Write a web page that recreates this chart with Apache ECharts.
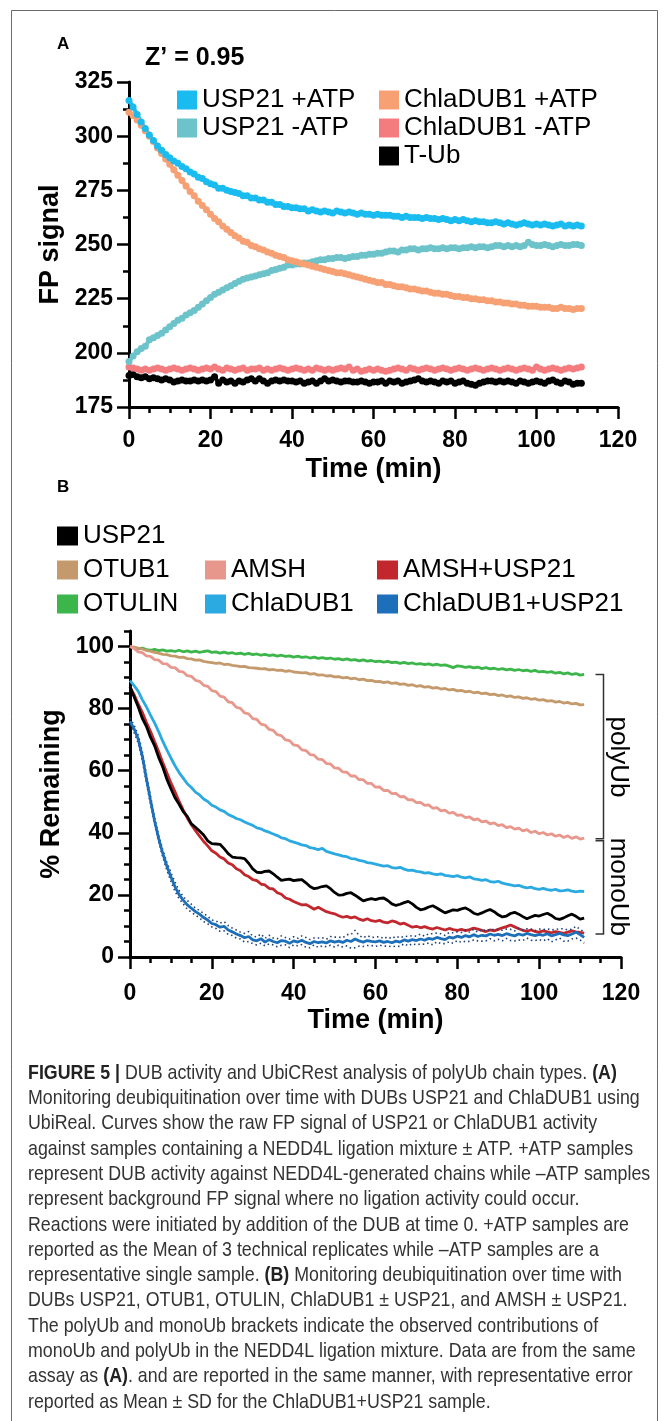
<!DOCTYPE html>
<html><head><meta charset="utf-8">
<script src="https://cdn.jsdelivr.net/npm/echarts@6/dist/echarts.min.js"></script>
<style>html,body{margin:0;padding:0;background:#fff}#c{width:667px;height:1421px}</style>
</head><body><div id="c"></div>
<script>
// ---------- data ----------
const TIME = [0,1,2,3,4,5,6,7,8,9,10,11,12,13,14,15,16,17,18,19,20,21,22,23,24,25,26,27,28,29,30,31,32,33,34,35,36,37,38,39,40,41,42,43,44,45,46,47,48,49,50,51,52,53,54,55,56,57,58,59,60,61,62,63,64,65,66,67,68,69,70,71,72,73,74,75,76,77,78,79,80,81,82,83,84,85,86,87,88,89,90,91,92,93,94,95,96,97,98,99,100,101,102,103,104,105,106,107,108,109,110,111];

const X_TICKS = [0,20,40,60,80,100,120];
const A_Y_TICKS = [175,200,225,250,275,300,325];
const B_Y_TICKS = [0,20,40,60,80,100];

// Panel A: FP signal
const A_USP21_PLUS = [316.5,313.5,310,306.5,303.5,300.5,298,295.5,293.5,291.5,290,
288.5,287.5,286,285,283.5,282.5,281,280.5,279,278,
277.5,276,276,275,274.5,274,273.5,272.5,272.5,271.5,
271.5,270.5,270.5,269.5,269.5,268.5,268.5,267.5,267.5,267,
267,266.5,266.5,265.5,266,265.5,265,265.5,265,264.5,
265.5,265,264.5,265,264.5,264,264.5,264,264,263.5,
264,263.5,263.5,263.5,263,263,262.5,263,262.5,262.5,
262.5,262,262.5,262,262,261.5,262,261.5,261,261.5,
261,261.5,261,260.5,261,260.5,260.5,260,260,260.5,
260,259.5,260,259.5,259,259.5,260,259.5,259,259.5,
259,259.5,259,258.5,259,259.5,258.5,259,258.5,259,258.5];
const A_USP21_MINUS = [196,198.5,200.5,202,203,206,207,208,209,210.5,212,
213.5,215,216,217.5,218.5,219.5,221,222.5,224,225.5,
227,228,229,230,231,232,233,234,234.5,235,
235.5,236,236.5,237,238,238.5,239,239.5,240.5,240.5,
241,241,241.5,241.5,242,242.5,243,243,243.5,243.5,
244,244,243.5,244,244.5,244.5,245,245,245.5,245.5,
246,246,246.5,247,247,246.5,247.5,247.5,248,248,
247.5,248,248,248.5,248,248,248.5,248,248.5,248.5,
248,248.5,248.5,249,248.5,249,249,248.5,249,249.5,
249.5,249,249.5,249,249.5,249,249.5,251,250,249.5,
249.5,250,249.5,249,249.5,250,249.5,249.5,250,250,249.5];
const A_CHLA_PLUS = [311,309.5,307.5,305,302.5,300,297.5,294.5,292,289.5,287,
284.5,282,279.5,277,274.5,272.5,270,268,266,264,
262,260.5,258.5,257,255.5,254,253,251.5,251,249.5,
249,248,247.5,246.5,246,245,244.5,244,243,242.5,
242,241.5,241,240.5,240,239.5,239,238.5,238,237.5,
237,237,236.5,236,235.5,235,234.5,234,233.5,233,
232.5,232.5,231.5,231.5,231,230.5,230.5,230,229.5,229.5,
229,228.5,228.5,228,227.5,227.5,227,227,226.5,226,
226,225.5,225.5,225,225,224.5,224.5,224,224,223.5,
223.5,223,223,222.5,222.5,222,222,221.5,221.5,221.5,
221,221,221,220.5,220.5,221,220.5,220.5,220,220.5,220.5];
const A_CHLA_MINUS = [193.5,193,192.5,192,192.5,192,192.5,193,192.5,192,192.5,
193,192.5,192,192.5,193,192.5,192,192.5,193,192.5,
193.5,192.5,192,193,192.5,192,192.5,193,192,192.5,
192.5,193,192,192.5,192,192.5,193,192.5,192,192.5,
193,192.5,192,192.5,192,193,192.5,192,192.5,192,
192.5,193,192.5,193.5,192,192.5,191.5,192,192.5,192,
192.5,192,191.5,192,192.5,193,192.5,192,193,192.5,
192,192.5,193,192.5,192,192.5,193,192.5,192,192.5,
193,192.5,192,192.5,193,192.5,192,192.5,193,192.5,
192,192.5,193,192.5,192,192.5,193,192.5,192,193.5,
192.5,192,192.5,193,192.5,192,192.5,193,192.5,193,193.5];
const A_TUB = [189.5,190,189,188.5,189,188,188.5,188,187.5,188,187.5,
186.5,187,187.5,187,187,187.5,187,187.5,187,187.5,
189,186,187.5,186.5,187,186,187,186.5,187.5,188,
187,188,187,186,187,187.5,187,187.5,187,187,
186.5,187,186,186.5,187,186,187,188,187,187.5,
187,186.5,187,187,186.5,186.5,187,186.5,186,186.5,
186.5,187,186,187,186.5,187,186,186.5,187,187.5,
188,187,186.5,187,186.5,186,187,186.5,187,186,
186.5,187,186,185.5,185,186,186.5,187,187,186.5,
187,186.5,187,186.5,186,187,186.5,186,186.5,187,
186.5,186,187,187.5,186.5,186,187,186.5,185.5,186,186];

// Panel B: % remaining
const B_USP21 = [87,83.8,80.6,76.9,74.3,70.8,68.1,64.3,61.2,57.3,54.2,
51.3,49.2,46.8,45.3,42.9,41.8,40.6,39.3,37.4,36.5,
36.4,36.3,34.9,33.3,32.2,32.0,31.9,31.7,30.2,28.4,
27.3,27.2,27.6,27.7,26.8,25.7,24.7,24.9,25.1,24.6,
24.8,24.9,23.9,22.7,22.0,22.3,22.7,22.9,22.0,20.8,
19.9,20.0,20.5,20.7,19.9,19.0,18.1,18.5,18.8,18.5,
18.9,19.0,18.2,17.1,16.6,17.0,17.5,17.9,17.1,16.0,
15.2,15.5,16.1,16.5,15.8,15.0,14.2,14.7,15.2,15.0,
15.5,15.8,15.1,14.1,13.7,14.2,14.8,15.3,14.6,13.6,
12.9,13.2,14.0,14.4,13.8,13.0,12.3,12.9,13.4,13.2,
13.7,14.1,13.4,12.4,12.1,12.6,13.3,13.8,13.1,12.2,12.5];
const B_OTUB1 = [100,99.8,99.5,99.2,98.7,98.5,98.1,97.9,97.5,97.4,97,
96.9,96.5,96.6,96.1,96,95.6,95.7,95.2,95,94.8,
94.6,94.7,94.2,94.3,93.9,93.8,93.5,93.6,93.2,93.1,
93,92.8,92.9,92.5,92.6,92.3,92.4,92,92.2,91.8,
91.7,91.5,91.6,91.1,91.3,90.8,90.9,90.5,90.6,90.2,
90.3,89.9,90.1,89.6,89.8,89.3,89.5,89,89.1,88.7,
88.8,88.4,88.6,88.1,88.3,87.8,88,87.5,87.7,87.2,
87.4,86.9,87.1,86.6,86.8,86.3,86.5,86,86.2,85.7,
85.9,85.4,85.6,85.1,85.3,84.8,85,84.5,84.7,84.2,
84.4,83.9,84.1,83.6,83.8,83.3,83.5,83,83.2,82.7,
82.9,82.4,82.6,82.1,82.3,81.8,82,81.5,81.7,81.2,81.3];
const B_AMSH = [100,99.4,98.3,98.0,97.0,96.8,95.8,95.6,94.5,94.4,93.3,
93.2,92.0,91.8,90.6,90.4,89.1,88.8,87.5,87.2,85.8,
85.5,84.0,83.7,82.2,81.9,80.4,80.1,78.6,78.3,76.8,
76.5,75.0,74.7,73.3,73.0,71.6,71.3,69.9,69.7,68.3,
68.1,66.7,66.5,65.2,65.0,63.7,63.6,62.3,62.2,60.9,
60.8,59.6,59.5,58.3,58.3,57.1,57.1,55.9,55.9,54.7,
54.8,53.6,53.7,52.6,52.7,51.6,51.7,50.6,50.7,49.7,
49.8,48.8,49.0,47.9,48.1,47.1,47.3,46.3,46.6,45.6,
45.8,44.9,45.1,44.2,44.5,43.5,43.8,42.9,43.2,42.3,
42.6,41.7,42.0,41.2,41.5,40.6,41.0,40.1,40.5,39.7,
40.1,39.3,39.7,38.9,39.3,38.5,39.0,38.2,38.7,38.0,38.3];
const B_AMSH_USP21 = [87,84.5,81.5,78.8,75.6,72.7,69.4,66.2,62.6,59.3,56.1,
53.2,50.1,47.4,44.8,42.6,40.7,38.9,37.2,35.8,34.2,
33.4,32.2,31.6,30.3,29.7,28.4,27.8,26.5,25.9,24.9,
24.6,23.5,23.2,22.1,21.9,20.7,20.2,19.0,18.6,17.9,
17.3,16.8,16.9,16.2,15.4,16.0,15.3,14.6,14.2,13.9,
13.3,12.8,13.1,12.6,12.9,12.2,11.8,12.3,11.7,11.5,
11.8,11.2,11.0,11.6,11.3,10.6,10.9,10.2,9.6,9.9,
9.4,9.8,9.3,9.0,9.5,9.1,8.7,9.2,8.8,8.6,
8.9,8.5,8.8,9.3,9.0,8.6,8.2,8.7,8.4,8.9,
9.4,9.8,10.3,9.7,9.1,8.6,8.3,8.7,8.2,8.0,
8.4,8.1,7.8,8.2,7.9,7.6,8.0,8.4,8.1,7.9,7.7];
const B_OTULIN = [100,99.6,99.3,99.5,99,98.8,99.1,98.7,98.9,98.5,98.7,
98.4,98.8,98.3,98.6,98.2,98.5,98.1,98.4,98.6,98.1,
98.3,97.9,98.2,97.8,98,97.6,97.9,97.5,97.8,97.4,
97.6,97.2,97.5,97.1,97.3,96.9,97.2,96.8,97,96.6,
96.9,96.5,96.7,96.3,96.6,96.2,96.4,96.1,96.3,95.9,
96.1,95.7,96,95.6,95.8,95.4,95.7,95.3,95.5,95.1,
95.3,95,95.2,94.8,95,94.6,94.9,94.5,94.7,94.3,
94.5,94.2,94.4,94,94.3,93.9,94.1,93.7,93.2,93.8,
93.6,93.3,93.5,93.1,93.4,92.9,93.2,92.8,93,92.6,
92.9,92.5,92.7,92.3,92.6,92.2,92.4,92,92.3,91.8,
92,91.7,91.9,91.4,91.7,91.2,91.5,91,91.3,90.8,91];
const B_CHLADUB1 = [89,87.4,85.6,82.9,80.6,77.9,75.4,72.6,69.5,66.7,64.1,
61.6,59.4,57.6,55.8,54.6,53.1,52.2,50.9,50.1,48.9,
48.3,47.4,46.9,45.9,45.3,44.6,44.2,43.5,42.9,42.4,
41.6,41.3,40.6,40.2,39.6,39.1,38.4,38.1,37.4,37.0,
36.6,36.1,35.9,35.2,35.0,34.6,35.0,34.0,33.6,33.2,
32.9,32.5,32.3,31.7,31.6,31.1,30.9,30.4,30.2,29.9,
29.6,29.3,29.4,28.8,28.6,28.9,28.3,27.9,28.0,27.6,
27.4,27.0,27.2,26.8,26.5,26.8,26.3,26.1,25.9,26.2,
25.7,25.5,25.8,25.2,25.0,24.7,24.9,24.3,24.1,24.4,
23.8,23.5,23.2,22.9,23.1,22.6,22.3,22.5,22.0,21.8,
22.1,21.7,21.5,21.8,21.3,21.4,21.6,21.2,21.0,21.2,21.1];
const B_CHLA_USP21 = [76,73.5,70.2,64.8,57.5,50.6,43.9,38.2,33.4,29.3,25.8,
22.6,20.1,18.3,16.8,15.7,14.6,13.8,12.7,11.9,10.8,
10.4,9.6,9.9,8.7,8.1,7.4,6.9,6.2,6.6,5.5,
5.2,5.9,4.8,5.6,5.0,4.6,5.3,5.1,4.4,5.2,
4.8,5.4,4.7,4.3,5.0,4.6,4.9,4.5,5.2,4.8,
5.1,4.7,5.4,5.0,5.8,5.2,4.8,5.3,5.0,4.9,
5.2,4.7,5.0,4.6,5.1,4.8,5.5,5.1,5.6,5.3,
5.8,5.4,6.0,5.7,6.3,5.9,5.6,6.4,6.1,6.7,
6.3,6.9,6.5,7.2,6.6,7.0,6.8,7.4,7.0,7.3,
6.9,7.5,7.1,6.8,7.4,7.0,7.6,7.2,6.9,7.3,
7.0,7.5,6.8,7.2,7.6,7.1,6.9,7.4,8.0,7.2,6.3];
const B_CHLA_USP21_SD = [1.0,1.2,1.3,1.5,1.4,1.3,1.2,1.1,1.2,1.3,1.4,
1.5,1.3,1.2,1.4,1.3,1.1,1.2,1.3,1.2,1.1,
1.2,1.3,1.5,1.4,1.2,1.3,1.1,1.4,1.6,1.2,
1.3,1.5,1.2,1.4,1.1,1.3,1.5,1.2,1.4,1.3,
1.2,1.4,1.6,1.3,1.1,1.5,1.3,1.2,1.4,1.6,
1.3,1.5,1.8,2.2,2.8,1.7,1.4,1.6,1.3,1.5,
1.4,1.2,1.5,1.3,1.6,1.4,1.2,1.5,1.3,1.4,
1.6,1.3,1.5,1.8,1.4,1.6,1.3,1.5,1.7,1.4,
1.6,1.8,1.5,1.7,1.4,1.9,1.6,1.5,1.8,1.6,
1.7,1.5,1.8,1.6,1.9,1.7,1.5,1.8,1.6,1.7,
1.8,1.6,1.9,1.7,1.5,2.0,1.8,1.6,1.9,1.7,1.8];

// bracket annotation (time position, top / junction / bottom values)
const BRACKET_T = 115.6;
const BRACKET_V = [91, 37.8, 7.4];

const CAPTION = [
 '{b|FIGURE 5 |} DUB activity and UbiCRest analysis of polyUb chain types. {b|(A)}',
 'Monitoring deubiquitination over time with DUBs USP21 and ChlaDUB1 using',
 'UbiReal. Curves show the raw FP signal of USP21 or ChlaDUB1 activity',
 'against samples containing a NEDD4L ligation mixture ± ATP. +ATP samples',
 'represent DUB activity against NEDD4L-generated chains while –ATP samples',
 'represent background FP signal where no ligation activity could occur.',
 'Reactions were initiated by addition of the DUB at time 0. +ATP samples are',
 'reported as the Mean of 3 technical replicates while –ATP samples are a',
 'representative single sample. {b|(B)} Monitoring deubiquitination over time with',
 'DUBs USP21, OTUB1, OTULIN, ChlaDUB1 ± USP21, and AMSH ± USP21.',
 'The polyUb and monoUb brackets indicate the observed contributions of',
 'monoUb and polyUb in the NEDD4L ligation mixture. Data are from the same',
 'assay as {b|(A)}. and are reported in the same manner, with representative error',
 'reported as Mean ± SD for the ChlaDUB1+USP21 sample.'
];

// ---------- chart ----------
const FONT = "'Liberation Sans', Arial, Helvetica, sans-serif";
const pairs = vals => TIME.map((t, i) => [t, vals[i]]);

const chart = echarts.init(document.getElementById('c'), null, {renderer: 'canvas', width: 667, height: 1421});

const lineAx = {show: true, onZero: false, lineStyle: {color: '#000', width: 3}};
const tickLong = {show: true, length: 12, lineStyle: {color: '#000', width: 2.5}};
const minorShort = n => ({show: true, splitNumber: n, length: 6, lineStyle: {color: '#000', width: 2.5}});
const lblStyle = {fontFamily: FONT, fontWeight: 'bold', fontSize: 23, color: '#000'};
const nameStyle = {fontFamily: FONT, fontWeight: 'bold', fontSize: 27, color: '#000'};

function xAx(grid, margin, gap) {
  return {
    type: 'value', gridIndex: grid, min: X_TICKS[0], max: X_TICKS[X_TICKS.length - 1], interval: 20,
    axisLine: lineAx, axisTick: tickLong, minorTick: minorShort(4),
    splitLine: {show: false}, minorSplitLine: {show: false},
    axisLabel: Object.assign({margin: margin}, lblStyle),
    name: 'Time (min)', nameLocation: 'middle', nameGap: gap, nameTextStyle: nameStyle
  };
}

const legText = {fontFamily: FONT, fontSize: 26, color: '#000'};
function leg(names, left, top, gap, w, h) {
  return {data: names, left: left, top: top, orient: 'vertical', icon: 'rect',
    itemWidth: w, itemHeight: h, itemGap: gap, padding: 0, selectedMode: false,
    textStyle: legText};
}

function lineA(name, vals, color) {
  return {name: name, type: 'line', xAxisIndex: 0, yAxisIndex: 0, data: pairs(vals),
    symbol: 'circle', symbolSize: 7, showSymbol: true, color: color,
    itemStyle: {color: color}, lineStyle: {color: color, width: 4}, silent: true};
}
function lineB(name, vals, color, z) {
  return {name: name, type: 'line', xAxisIndex: 1, yAxisIndex: 1, data: pairs(vals),
    showSymbol: false, symbol: 'rect', color: color, z: z,
    itemStyle: {color: color}, lineStyle: {color: color, width: 2.8}, silent: true};
}

const sdUpper = B_CHLA_USP21.map((v, i) => v + B_CHLA_USP21_SD[i]);
const sdLower = B_CHLA_USP21.map((v, i) => v - B_CHLA_USP21_SD[i]);

const B_H = 326, B_TOP = 631;
const option = {
  animation: false,
  backgroundColor: '#fff',
  textStyle: {fontFamily: FONT},
  grid: [
    {left: 129, top: 82, width: 489, height: 325, outerBoundsMode: 'none'},
    {left: 130, top: B_TOP, width: 491, height: B_H, outerBoundsMode: 'none'},
    // overlay grid spanning 0..100 of panel B for long major ticks
    {left: 130, top: B_TOP + B_H * 5 / 105, width: 491, height: B_H * 100 / 105, outerBoundsMode: 'none'}
  ],
  xAxis: [
    xAx(0, 22, 49), xAx(1, 25, 50),
    {type: 'value', gridIndex: 2, min: 0, max: 120, show: false}
  ],
  yAxis: [
    {type: 'value', gridIndex: 0, min: A_Y_TICKS[0], max: A_Y_TICKS[A_Y_TICKS.length - 1], interval: 25,
     axisLine: lineAx, axisTick: tickLong, minorTick: minorShort(2),
     splitLine: {show: false}, minorSplitLine: {show: false},
     axisLabel: Object.assign({margin: 16}, lblStyle),
     name: 'FP signal', nameLocation: 'middle', nameGap: 62, nameTextStyle: nameStyle},
    {type: 'value', gridIndex: 1, min: 0, max: 105, interval: 5,
     axisLine: lineAx, axisTick: {show: true, length: 6, lineStyle: {color: '#000', width: 2.5}},
     splitLine: {show: false},
     axisLabel: Object.assign({margin: 16, formatter: v => (B_Y_TICKS.indexOf(v) >= 0 ? String(v) : '')}, lblStyle),
     name: '% Remaining', nameLocation: 'middle', nameGap: 60, nameTextStyle: nameStyle},
    {type: 'value', gridIndex: 2, min: B_Y_TICKS[0], max: B_Y_TICKS[B_Y_TICKS.length - 1], interval: 20,
     axisLine: {show: false}, axisTick: tickLong, axisLabel: {show: false}, splitLine: {show: false}}
  ],
  legend: [
    leg(['USP21 +ATP', 'USP21 -ATP'], 177, 87, 2, 20, 19),
    leg(['ChlaDUB1 +ATP', 'ChlaDUB1 -ATP', 'T-Ub'], 379, 87, 2, 20, 19),
    leg(['USP21', 'OTUB1', 'OTULIN'], 57, 523, 8, 21, 19),
    leg(['AMSH', 'ChlaDUB1'], 205, 557, 8, 21, 19),
    leg(['AMSH+USP21', 'ChlaDUB1+USP21'], 377, 557, 8, 21, 19)
  ],
  series: [
    lineA('T-Ub', A_TUB, '#000000'),
    lineA('ChlaDUB1 -ATP', A_CHLA_MINUS, '#F47C7E'),
    lineA('USP21 -ATP', A_USP21_MINUS, '#6CC3C9'),
    lineA('ChlaDUB1 +ATP', A_CHLA_PLUS, '#F6A074'),
    lineA('USP21 +ATP', A_USP21_PLUS, '#1ABCF0'),

    lineB('OTULIN', B_OTULIN, '#3CB54A', 2),
    lineB('OTUB1', B_OTUB1, '#C49A6C', 2),
    lineB('AMSH', B_AMSH, '#E8978C', 2),
    lineB('ChlaDUB1', B_CHLADUB1, '#2BA9E1', 2),
    lineB('AMSH+USP21', B_AMSH_USP21, '#C1272D', 3),
    lineB('USP21', B_USP21, '#000000', 4),
    {name: 'SD upper', type: 'line', xAxisIndex: 1, yAxisIndex: 1, data: pairs(sdUpper), showSymbol: false, z: 5,
     lineStyle: {color: '#1F3F78', width: 1.6, type: [1.5, 3]}, silent: true},
    {name: 'SD lower', type: 'line', xAxisIndex: 1, yAxisIndex: 1, data: pairs(sdLower), showSymbol: false, z: 5,
     lineStyle: {color: '#1F3F78', width: 1.6, type: [1.5, 3]}, silent: true},
    lineB('ChlaDUB1+USP21', B_CHLA_USP21, '#1C6FB8', 6)
  ]
};
chart.setOption(option);

// ---------- annotations ----------
const g = [];
g.push({type: 'rect', silent: true, z: 0, shape: {x: 11.5, y: 10.5, width: 646, height: 1430},
  style: {fill: 'none', stroke: '#6b6b6b', lineWidth: 1}});
g.push({type: 'text', x: 57, y: 44, style: {text: 'A', fontFamily: FONT, fontWeight: 'bold', fontSize: 17, fill: '#000', verticalAlign: 'middle'}});
g.push({type: 'text', x: 57, y: 487, style: {text: 'B', fontFamily: FONT, fontWeight: 'bold', fontSize: 17, fill: '#000', verticalAlign: 'middle'}});
g.push({type: 'text', x: 145, y: 58, style: {text: 'Z’ = 0.95', fontFamily: FONT, fontWeight: 'bold', fontSize: 25, fill: '#000', verticalAlign: 'middle'}});

// bracket
const P = v => chart.convertToPixel({xAxisIndex: 1, yAxisIndex: 1}, [BRACKET_T, v]);
const pt = P(BRACKET_V[0]), pm = P(BRACKET_V[1]), pb = P(BRACKET_V[2]);
const bx = Math.round(pt[0]) + 0.5, tk = 8;
g.push({type: 'polyline', silent: true, shape: {points: [[bx - tk, pt[1]], [bx, pt[1]], [bx, pm[1] - 1], [bx - tk, pm[1] - 1]]},
  style: {stroke: '#333', lineWidth: 1.5, fill: 'none'}});
g.push({type: 'polyline', silent: true, shape: {points: [[bx - tk, pm[1] + 1], [bx, pm[1] + 1], [bx, pb[1]], [bx - tk, pb[1]]]},
  style: {stroke: '#333', lineWidth: 1.5, fill: 'none'}});
g.push({type: 'text', x: bx + 15, y: (pt[1] + pm[1]) / 2, rotation: -Math.PI / 2,
  style: {text: 'polyUb', fontFamily: FONT, fontSize: 26, fill: '#000', align: 'center', verticalAlign: 'middle'}});
g.push({type: 'text', x: bx + 15, y: (pm[1] + pb[1]) / 2, rotation: -Math.PI / 2,
  style: {text: 'monoUb', fontFamily: FONT, fontSize: 26, fill: '#000', align: 'center', verticalAlign: 'middle'}});

// caption
CAPTION.forEach((line, i) => {
  g.push({type: 'text', x: 28, y: 1073 + i * 25.3, scaleX: 0.848, silent: true,
    style: {text: line, fontFamily: FONT, fontSize: 21, fill: '#333', verticalAlign: 'middle', align: 'left',
      rich: {b: {fontFamily: FONT, fontSize: 21, fontWeight: 'bold', fill: '#222'}}}});
});

chart.setOption({graphic: g});
</script>
</body></html>
